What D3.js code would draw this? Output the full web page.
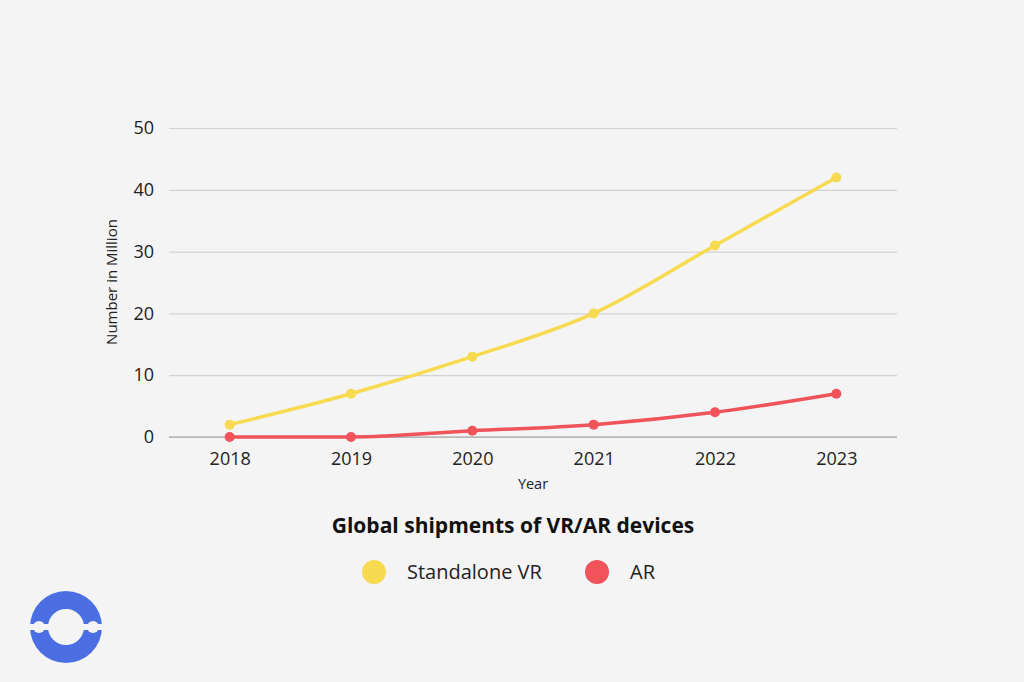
<!DOCTYPE html>
<html>
<head>
<meta charset="utf-8">
<script src="https://cdn.jsdelivr.net/npm/d3@7"></script>
<style>
  body { margin: 0; background: #f4f4f4; }
  svg { display: block; font-family: "Open Sans", Lato, sans-serif; }
  .grid line { stroke: #d3d3d3; stroke-width: 1.2; }
  .grid .domain { display: none; }
  .axis .domain, .axis line { display: none; }
  .axis text { font-size: 18px; fill: #222; font-family: "Open Sans", Lato, sans-serif; }
</style>
</head>
<body>
<svg width="1024" height="682"></svg>
<script>
var years = ["2018", "2019", "2020", "2021", "2022", "2023"];
var vrValues = [2, 7, 13, 20, 31, 42];
var arValues = [0, 0, 1, 2, 4, 7];
var yTicks = [0, 10, 20, 30, 40, 50];
var seriesNames = ["Standalone VR", "AR"];
var seriesColors = ["#f7da4f", "#f0535a"];

var margin = {top: 128, left: 169, right: 127},
    width = 1024 - margin.left - margin.right,
    height = 437 - margin.top;

var svg = d3.select("svg");
svg.append("rect").attr("width", 1024).attr("height", 682).attr("fill", "#f4f4f4");

var g = svg.append("g")
    .attr("transform", "translate(" + margin.left + "," + margin.top + ")");

var x = d3.scalePoint().domain(years).range([0, width]).padding(0.5);
var y = d3.scaleLinear().domain([0, 50]).range([height, 0]);

g.append("g")
    .attr("class", "grid")
    .call(d3.axisLeft(y).tickValues(yTicks).tickSize(-width).tickFormat(""));
g.append("line")
    .attr("x1", 0).attr("x2", width)
    .attr("y1", y(0)).attr("y2", y(0))
    .attr("stroke", "#9a9a9a").attr("stroke-width", 1.2);

g.append("g")
    .attr("class", "axis")
    .attr("transform", "translate(-15,0)")
    .call(d3.axisLeft(y).tickValues(yTicks).tickSize(0).tickPadding(0));

g.append("g")
    .attr("class", "axis")
    .attr("transform", "translate(0," + (height + 5) + ")")
    .call(d3.axisBottom(x).tickSize(0).tickPadding(10));

g.append("text")
    .attr("dy", "0.35em")
    .attr("transform", "translate(-57," + (282 - margin.top) + ") rotate(-90)")
    .attr("text-anchor", "middle")
    .attr("font-size", 15)
    .attr("fill", "#222")
    .text("Number in Million");

g.append("text")
    .attr("x", 533 - margin.left)
    .attr("y", 489 - margin.top)
    .attr("text-anchor", "middle")
    .attr("font-size", 14.5)
    .attr("fill", "#222")
    .text("Year");

var series = [vrValues, arValues];
var line = d3.line()
    .x(function(d, i) { return x(years[i]); })
    .y(function(d) { return y(d); })
    .curve(d3.curveMonotoneX);

series.forEach(function(vals, s) {
    g.append("path")
        .attr("d", line(vals))
        .attr("fill", "none")
        .attr("stroke", seriesColors[s])
        .attr("stroke-width", 3.5);
    g.selectAll(".pt" + s)
        .data(vals)
        .enter().append("circle")
        .attr("cx", function(d, i) { return x(years[i]); })
        .attr("cy", function(d) { return y(d); })
        .attr("r", 5)
        .attr("fill", seriesColors[s]);
});

svg.append("text")
    .attr("x", 513)
    .attr("y", 533)
    .attr("text-anchor", "middle")
    .attr("font-size", 21)
    .attr("font-weight", "bold")
    .attr("fill", "#111")
    .text("Global shipments of VR/AR devices");

var legendX = [374, 597];
seriesNames.forEach(function(name, s) {
    svg.append("circle")
        .attr("cx", legendX[s]).attr("cy", 572).attr("r", 12)
        .attr("fill", seriesColors[s]);
    svg.append("text")
        .attr("x", legendX[s] + 33).attr("y", 579)
        .attr("font-size", 20)
        .attr("fill", "#222")
        .text(name);
});

// logo
var logo = svg.append("g").attr("transform", "translate(66,627)");
logo.append("circle").attr("r", 36).attr("fill", "#4b6fe2");
logo.append("circle").attr("r", 18).attr("fill", "#f4f4f4");
logo.append("rect").attr("x", -38).attr("y", -3).attr("width", 76).attr("height", 6).attr("fill", "#f4f4f4");
[-27, 27].forEach(function(cx) {
    logo.append("circle").attr("cx", cx).attr("cy", 0).attr("r", 6).attr("fill", "#f4f4f4");
});
</script>
</body>
</html>
